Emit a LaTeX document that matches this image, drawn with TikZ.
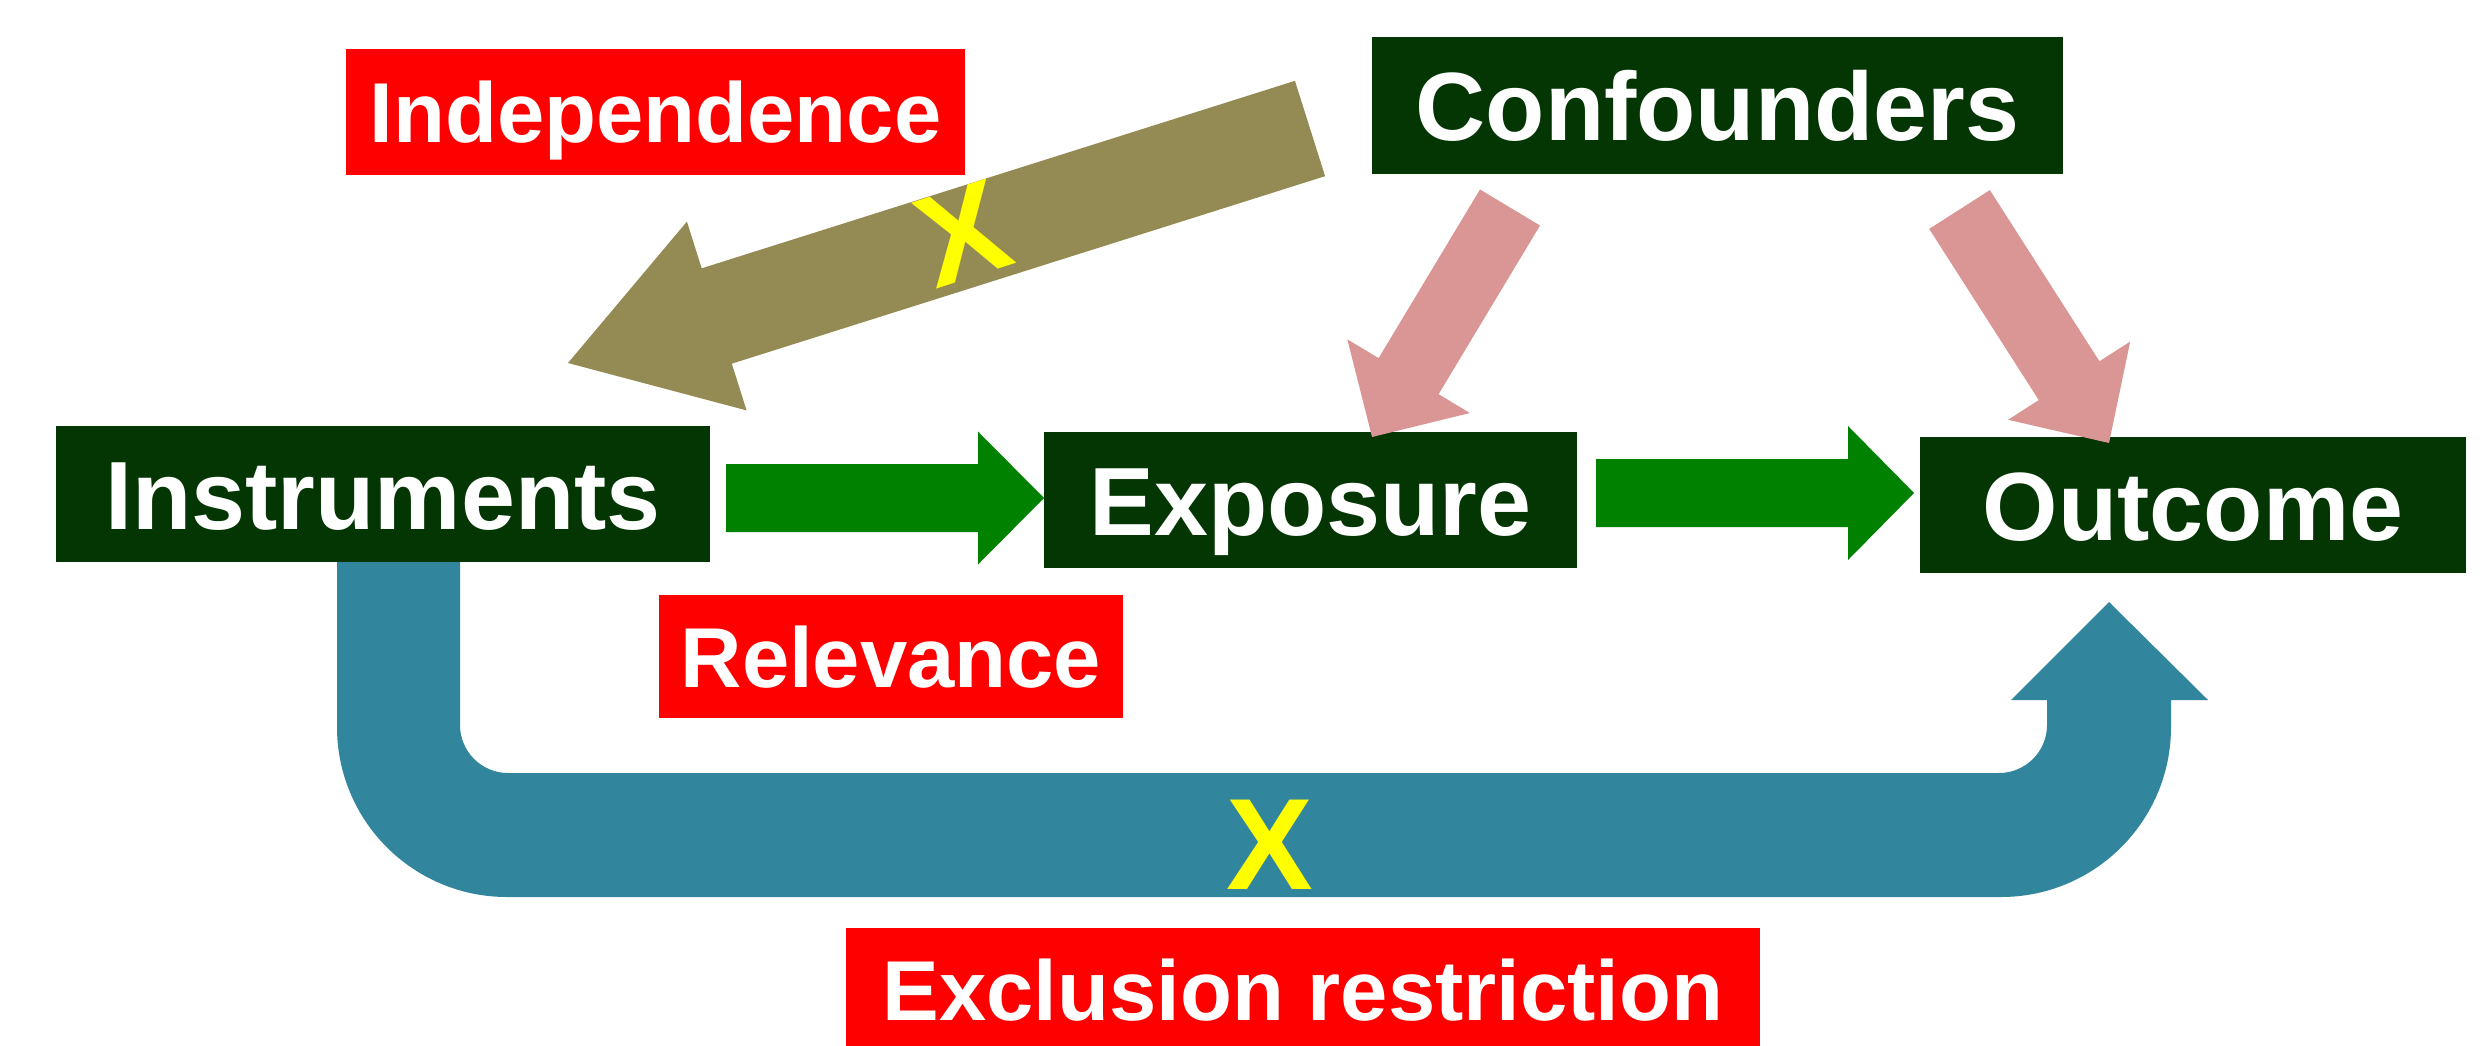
\documentclass[tikz,border=0pt]{standalone}
\usepackage{fontspec}
\setmainfont{Liberation Sans}
\usetikzlibrary{calc}
\definecolor{boxgreen}{RGB}{3,54,3}
\definecolor{arrgreen}{RGB}{0,130,0}
\definecolor{olivearr}{RGB}{148,138,84}
\definecolor{pinkarr}{RGB}{217,150,148}
\definecolor{tealarr}{RGB}{49,133,156}
\definecolor{xyellow}{RGB}{255,255,0}
\definecolor{labelred}{RGB}{255,0,0}
% block arrow: #1 style, #2 start, #3 tip, #4 half shaft, #5 half head, #6 head length
\newcommand\blockarr[6]{%
  \coordinate (ba-m) at ($(#3)!#6!(#2)$);
  \fill[#1] ($(#2)!#4!90:(#3)$) -- ($(ba-m)!#4!90:(#3)$) -- ($(ba-m)!#5!90:(#3)$) -- (#3)
    -- ($(ba-m)!#5!-90:(#3)$) -- ($(ba-m)!#4!-90:(#3)$) -- ($(#2)!#4!-90:(#3)$) -- cycle;}
\begin{document}
\begin{tikzpicture}[x=1pt,y=-1pt,
  mainbox/.style={fill=boxgreen, text=white, font=\fontsize{97}{97}\selectfont\bfseries,
    inner sep=0pt, outer sep=0pt, text height=70pt, text depth=0pt, minimum height=136pt},
  redbox/.style={fill=labelred, text=white, font=\fontsize{85}{85}\selectfont\bfseries,
    inner sep=0pt, outer sep=0pt, text height=61pt, text depth=0pt, minimum height=123pt},
  xmark/.style={text=xyellow, font=\fontsize{130}{130}\selectfont\bfseries,
    inner sep=0pt, text height=93pt, text depth=0pt},
  greenfill/.style={fill=arrgreen},
  pinkfill/.style={fill=pinkarr},
  olivefill/.style={fill=olivearr},
  tealfill/.style={fill=tealarr}]
\fill[white] (0,0) rectangle (2491,1046);
\useasboundingbox (0,0) rectangle (2491,1046);

% boxes
\node[mainbox, minimum width=654pt] (ins) at (383,494) {Instruments};
\node[mainbox, minimum width=533pt] (exp) at (1310.5,500) {Exposure};
\node[mainbox, minimum width=546pt] (out) at (2193,505) {Outcome};
\node[mainbox, minimum width=691pt, minimum height=137pt] (con) at (1717.5,105.5) {Confounders};
\node[redbox, minimum width=619pt, minimum height=126pt] (ind) at (655.5,112) {Independence};
\node[redbox, minimum width=464pt] (rel) at (891,656.5) {Relevance};
\node[redbox, minimum width=914pt] (exc) at (1303,989.5) {Exclusion restriction};

% exclusion restriction U arrow (Instruments -> Outcome)
\fill[tealfill] (337,562) -- (337,727) arc[start angle=180, end angle=270, radius=170pt]
  -- (2001,897) arc[start angle=270, end angle=360, radius=170pt]
  -- (2171,700) -- (2208,700) -- (2109,602) -- (2011,700) -- (2047,700) -- (2047,725)
  arc[start angle=0, end angle=-90, radius=48pt]
  -- (508,773) arc[start angle=270, end angle=180, radius=48pt]
  -- (460,562) -- cycle;

% arrow end points
\coordinate (g1s) at (726,498);   \coordinate (g1t) at (1044,498);
\coordinate (g2s) at (1596,493);  \coordinate (g2t) at (1914,493);
\coordinate (p1s) at (1510,207.5); \coordinate (p1t) at (1372,437);
\coordinate (p2s) at (1959.5,209.5); \coordinate (p2t) at (2109,443);
\coordinate (os) at (1310,128.5); \coordinate (ot) at (568,363);

\blockarr{greenfill}{g1s}{g1t}{34pt}{66.5pt}{66pt}
\blockarr{greenfill}{g2s}{g2t}{34pt}{67pt}{66pt}
\blockarr{pinkfill}{p1s}{p1t}{35pt}{71.5pt}{71pt}
\blockarr{pinkfill}{p2s}{p2t}{36pt}{72.5pt}{74pt}
\blockarr{olivefill}{os}{ot}{50pt}{99pt}{156pt}

% crosses
\node[xmark, rotate=18] (xo) at (962,232) {X};
\node[xmark] (xb) at (1270,843) {X};
\end{tikzpicture}
\end{document}
